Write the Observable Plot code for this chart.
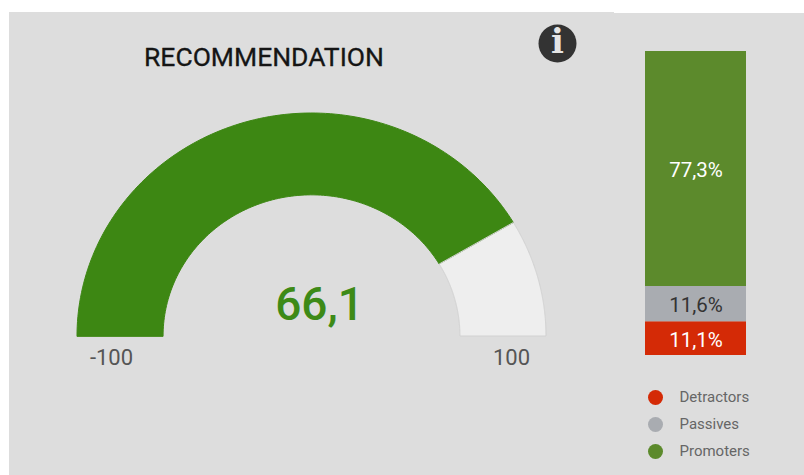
<!DOCTYPE html>
<html>
<head>
<meta charset="utf-8">
<script src="https://cdn.jsdelivr.net/npm/d3@7"></script>
<script src="https://cdn.jsdelivr.net/npm/@observablehq/plot@0.6"></script>
<style>
html,body{margin:0;padding:0;background:#fff;}
#stage{position:relative;width:804px;height:475px;overflow:hidden;font-family:Roboto,sans-serif;}
#panelA{position:absolute;left:9px;top:12px;width:605px;height:463px;background:#dddddd;}
#panelB{position:absolute;left:614px;top:13px;width:190px;height:462px;background:#dddddd;}
#stage svg{position:absolute;left:0;top:0;background:transparent;overflow:visible;}
</style>
</head>
<body>
<div id="stage"><div id="panelA"></div><div id="panelB"></div></div>
<script>
const title = "RECOMMENDATION";
const score = 66.1;
const scoreLabel = "66,1";
const gaugeMin = -100;
const gaugeMax = 100;
const gaugeLabels = ["-100", "100"];
const categories = ["Detractors", "Passives", "Promoters"];
const shares = [11.1, 11.6, 77.3];
const shareLabels = ["11,1%", "11,6%", "77,3%"];
const categoryColors = ["#d42a06", "#a9acb1", "#5c8a2c"];
const shareTextColors = ["#ffffff", "#333333", "#ffffff"];
const innerRatio = 0.633;

const stage = document.getElementById("stage");
const toAngle = v => Math.PI * (1 - (v - gaugeMin) / (gaugeMax - gaugeMin));
const segments = [
  {from: gaugeMin, to: score, fill: "#3d8713", stroke: "#3d8713"},
  {from: score, to: gaugeMax, fill: "#eeeeee", stroke: "#d2d2d2"}
];
const arcRows = segments.flatMap((s, k) =>
  d3.range(0, 121).map(i => {
    const a = toAngle(s.from + (s.to - s.from) * i / 120);
    return {k, fill: s.fill, stroke: s.stroke,
      ox: Math.cos(a), oy: Math.sin(a),
      ix: innerRatio * Math.cos(a), iy: innerRatio * Math.sin(a)};
  }));

const gauge = Plot.plot({
  width: 804, height: 475, margin: 0,
  style: {background: "transparent", fontFamily: "Roboto, sans-serif"},
  x: {domain: [-1, 1], range: [77, 546], axis: null},
  y: {domain: [0, 1], range: [336, 113], axis: null},
  marks: [
    Plot.area(arcRows, {x1: "ox", y1: "oy", x2: "ix", y2: "iy", z: "k",
      fill: "fill", stroke: "stroke", strokeWidth: 1}),
    Plot.text([scoreLabel], {x: 0, y: 0, text: d => d, dx: 7.5, dy: -31,
      fontSize: 46, fontWeight: 500, fill: "#3d8a17"}),
    Plot.text([gaugeLabels[0]], {x: -1, y: 0, text: d => d, dx: 34, dy: 21,
      fontSize: 22, fill: "#555555"}),
    Plot.text([gaugeLabels[1]], {x: 1, y: 0, text: d => d, dx: -35, dy: 21,
      fontSize: 22, fill: "#555555"}),
    Plot.text([title], {frameAnchor: "top-left", text: d => d, textAnchor: "middle",
      lineAnchor: "middle", dx: 263.5, dy: 57, fontSize: 26.5, fontWeight: 400, stroke: "#151515", strokeWidth: 0.3, fill: "#151515"}),
    Plot.dot([0], {frameAnchor: "top-left", dx: 557, dy: 43, r: 19, fill: "#333333"}),
    Plot.text(["i"], {frameAnchor: "top-left", dx: 557, dy: 42, text: d => d, textAnchor: "middle",
      lineAnchor: "middle", fontFamily: "DejaVu Serif", fontWeight: 700, fontSize: 34, fill: "#e4e4e4"})
  ]
});
stage.appendChild(gauge);

const rows = categories.map((category, i) => ({
  category, share: shares[i], label: shareLabels[i],
  color: categoryColors[i], textColor: shareTextColors[i]
}));
const stacked = Plot.plot({
  width: 804, height: 475, margin: 0,
  style: {background: "transparent", fontFamily: "Roboto, sans-serif"},
  x: {type: "band", domain: ["share"], range: [645, 746], padding: 0, axis: null},
  y: {domain: [0, 100], range: [355, 51], axis: null},
  marks: [
    Plot.barY(rows, Plot.stackY({x: () => "share", y: "share", order: null, fill: "color"})),
    Plot.text(rows, Plot.stackY({x: () => "share", y: "share", order: null, text: "label",
      fill: "textColor", fontSize: 20.5, dy: 1.5}))
  ]
});
stage.appendChild(stacked);

const legend = Plot.plot({
  width: 804, height: 475, margin: 0,
  style: {background: "transparent", fontFamily: "Roboto, sans-serif"},
  x: {type: "linear", domain: [0, 1], range: [655, 679], axis: null},
  y: {type: "point", domain: categories, range: [397, 451], padding: 0, axis: null},
  marks: [
    Plot.dot(rows, {x: 0, y: "category", r: 7.5, fill: "color"}),
    Plot.text(rows, {x: 1, y: "category", text: "category", textAnchor: "start",
      fontSize: 15, fill: "#666666"})
  ]
});
stage.appendChild(legend);
</script>
</body>
</html>
